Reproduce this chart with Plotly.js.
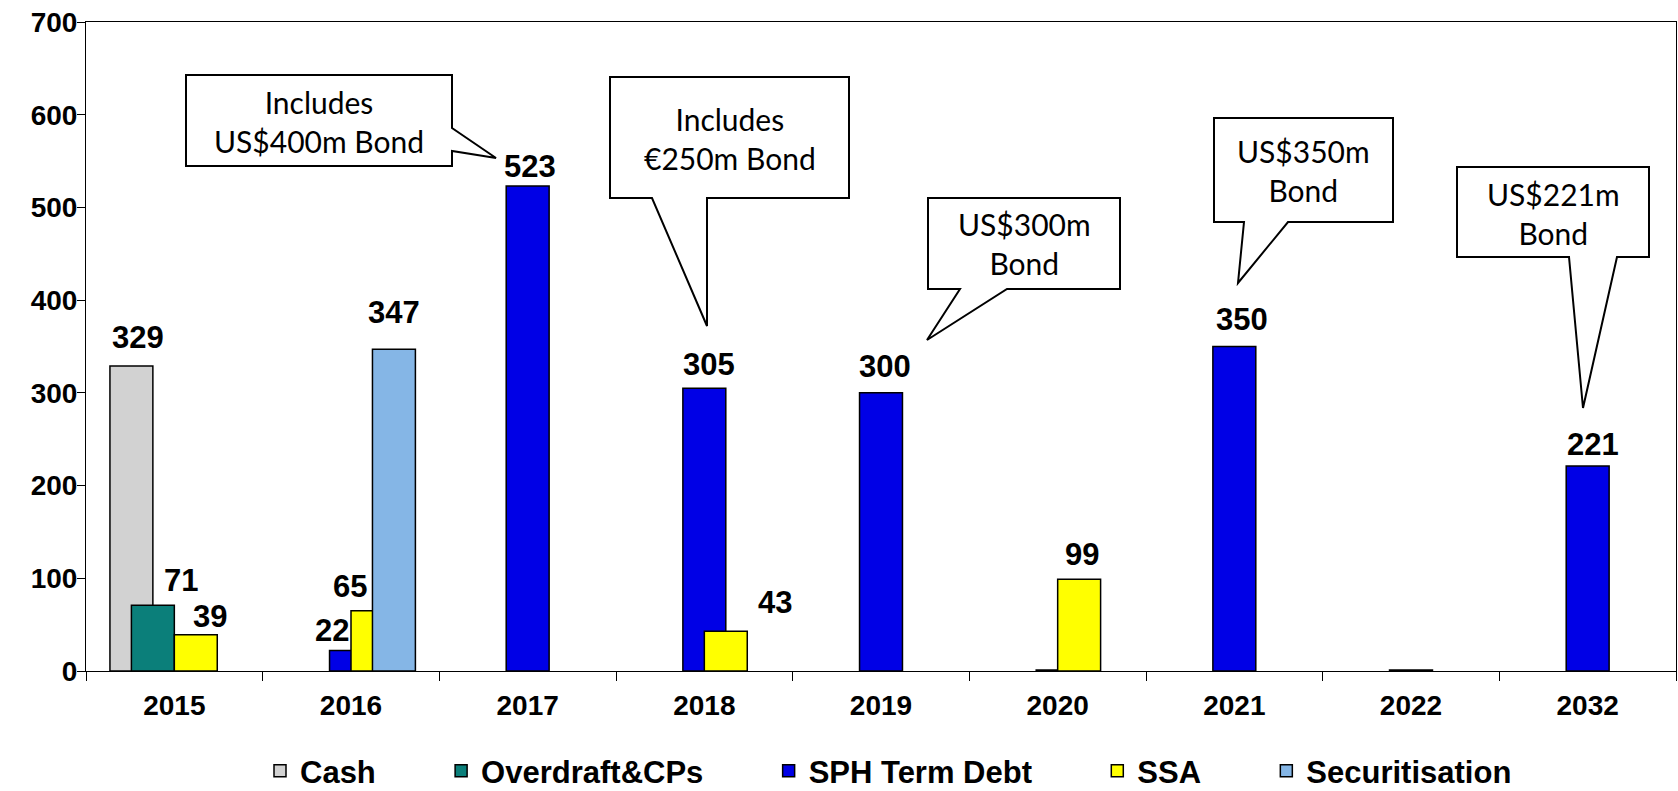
<!DOCTYPE html>
<html><head><meta charset="utf-8">
<script src="https://cdn.plot.ly/plotly-3.0.1.min.js"></script>
<style>html,body{margin:0;padding:0;background:#fff;} #chart{width:1678px;height:791px;}</style>
</head><body><div id="chart"></div>
<script>
// ---- data ----
const categories = ['2015','2016','2017','2018','2019','2020','2021','2022','2032'];
const seriesNames = ['Cash','Overdraft&CPs','SPH Term Debt','SSA','Securitisation'];
const cash          = [329, null, null, null, null, null, null, null, null];
const overdraftCPs  = [71,  null, null, null, null, null, null, null, null];
const sphTermDebt   = [null, 22, 523, 305, 300, 1, 350, 1, 221];
const ssa           = [39,  65, null, 43, null, 99, null, null, null];
const securitisation= [null, 347, null, null, null, null, null, null, null];

const calloutTexts = ['Includes<br>US$400m Bond','Includes<br>€250m Bond','US$300m<br>Bond','US$350m<br>Bond','US$221m<br>Bond'];

// ---- styles / positions ----
const colors = ['#d2d2d2','#0b7f7a','#0000e6','#ffff00','#85b6e6'];
const barWidth = 0.243;
const offsets = [-0.3645,-0.243,-0.1215,0,0.1215];
// per-label pixel nudges [dx, dy above bar top]
const nudges = [
  [[7,28]],
  [[28,25]],
  [null,[-19,20],[2,20],[5,24],[4,26],null,[8,27],null,[5,22]],
  [[14,18],[-22,24],null,[49,29],null,[3,25]],
  [null,[0,37]]
];

const W=1678,H=791, M={l:86,r:2,t:22,b:120,autoexpand:false};
const PW=W-M.l-M.r, PH=H-M.t-M.b;
const px = x => (x-M.l)/PW;
const py = y => (H-M.b-y)/PH;

const calloutShapes = [
  [[186,75],[452,75],[452,128],[496,158],[452,151],[452,166],[186,166]],
  [[610,77],[849,77],[849,198],[707,198],[707,326],[652,198],[610,198]],
  [[928,198],[1120,198],[1120,289],[1007,289],[927,340],[960,289],[928,289]],
  [[1214,118],[1393,118],[1393,222],[1288,222],[1238,283],[1244,222],[1214,222]],
  [[1457,167],[1649,167],[1649,257],[1617,257],[1583,408],[1569,257],[1457,257]]
];
const calloutTextPos = [[319,121],[729.5,138],[1024,244],[1303.5,170],[1553,213]];

const allSeries = [cash, overdraftCPs, sphTermDebt, ssa, securitisation];
const font = 'Liberation Sans, Arial, sans-serif';
const legendPad = '\u00a0'.repeat(7);

const traces = allSeries.map((vals,i)=>({
  type:'bar', x:categories, y:vals,
  name: seriesNames[i] + (i < seriesNames.length-1 ? legendPad : ''),
  offset:offsets[i], width:barWidth,
  marker:{color:colors[i], line:{color:'#000', width:1.5}},
  hoverinfo:'x+y'
}));

const annotations = [];
allSeries.forEach((vals,i)=>{
  vals.forEach((v,j)=>{
    if(v==null || v<5) return;
    const n = (nudges[i] && nudges[i][j]) || [0,24];
    annotations.push({
      x: j + offsets[i] + barWidth/2, y: v, xref:'x', yref:'y',
      text: String(v), showarrow:false, xanchor:'center', yanchor:'middle',
      xshift:n[0], yshift:n[1],
      font:{family:font, size:31, color:'#000', weight:700}
    });
  });
});

const shapes = calloutShapes.map(pts=>({
  type:'path', xref:'paper', yref:'paper',
  path: 'M' + pts.map(p=>px(p[0])+','+py(p[1])).join(' L') + ' Z',
  fillcolor:'#fff', line:{color:'#000', width:2}, layer:'above'
}));
calloutTexts.forEach((t,i)=>{
  annotations.push({
    x:px(calloutTextPos[i][0]), y:py(calloutTextPos[i][1]), xref:'paper', yref:'paper',
    text:t, showarrow:false, xanchor:'center', yanchor:'middle',
    font:{family:'Lato, Open Sans, sans-serif', size:30, color:'#000'}
  });
});

const layout = {
  width:W, height:H, margin:M,
  paper_bgcolor:'#fff', plot_bgcolor:'#fff',
  barmode:'overlay', showlegend:true,
  xaxis:{type:'category', range:[-0.5,8.5], showline:true, linecolor:'#000', linewidth:1, mirror:true,
    ticks:'outside', tickson:'boundaries', ticklen:9, tickcolor:'#000', showgrid:false,
    tickfont:{family:font, size:28, color:'#000', weight:700}, ticklabelstandoff:9, fixedrange:true},
  yaxis:{range:[0,700], dtick:100, showline:true, linecolor:'#000', linewidth:1, mirror:true,
    ticks:'outside', ticklen:8, tickcolor:'#000', showgrid:false, zeroline:false,
    tickfont:{family:font, size:28, color:'#000', weight:700}, ticklabelstandoff:-6, fixedrange:true},
  legend:{orientation:'h', x:px(260), xanchor:'left', y:py(771), yanchor:'middle',
    font:{family:font, size:31, color:'#000', weight:700}, bgcolor:'rgba(0,0,0,0)'},
  shapes:shapes, annotations:annotations
};

Plotly.newPlot('chart', traces, layout, {displayModeBar:false, staticPlot:true});
</script></body></html>
